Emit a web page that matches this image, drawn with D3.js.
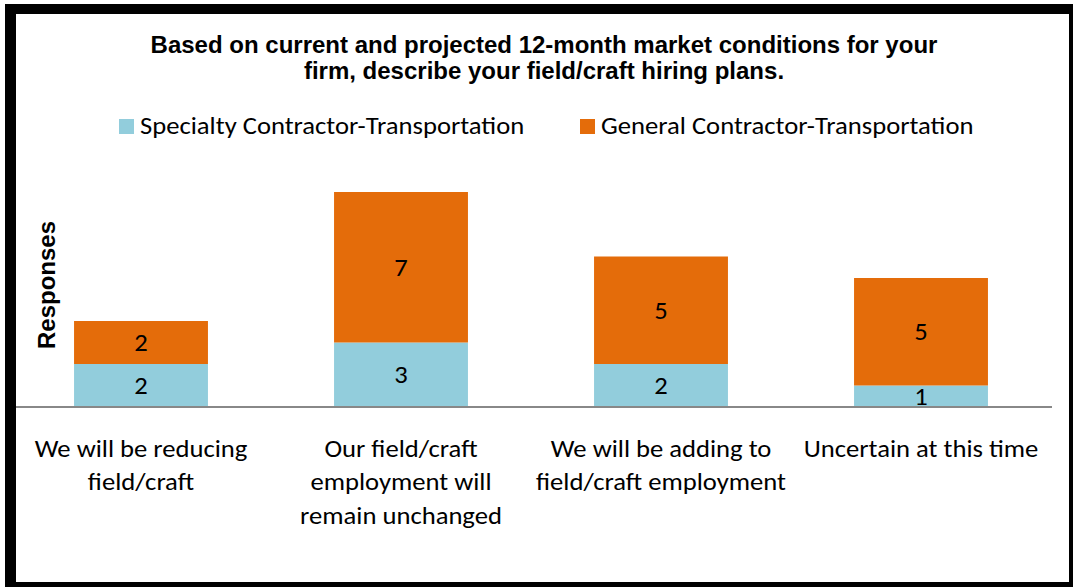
<!DOCTYPE html>
<html><head><meta charset="utf-8">
<script src="https://cdn.jsdelivr.net/npm/d3@7"></script>
<style>html,body{margin:0;padding:0;background:#fff;} svg{display:block;}</style>
</head><body>
<svg id="c" width="1075" height="587"></svg>
<script>
const categories = [
  ["We will be reducing", "field/craft"],
  ["Our field/craft", "employment will", "remain unchanged"],
  ["We will be adding to", "field/craft employment"],
  ["Uncertain at this time"]
];
const seriesNames = ["Specialty Contractor-Transportation", "General Contractor-Transportation"];
const specialty = [2, 3, 2, 1];
const general = [2, 7, 5, 5];
const colors = ["#92CDDC", "#E46C0A"];
const titleLines = ["Based on current and projected 12-month market conditions for your", "firm, describe your field/craft hiring plans."];
const yTitle = "Responses";

const svg = d3.select("#c");
const W = 1075, H = 587;
const bodyFont = "Carlito, Calibri, 'Open Sans', sans-serif";
const boldFont = "Arial, 'Liberation Sans', sans-serif";
const SX = 1.11; // horizontal stretch of body text

svg.append("rect").attr("width", W).attr("height", H).attr("fill", "#fff");

const keys = categories.map((c, i) => i);
const x = d3.scaleBand().domain(keys).range([11, 1051]).paddingInner(0.485).paddingOuter(0.2425);
const y = d3.scaleLinear().domain([0, 10]).range([407, 192]);

const rows = keys.map(i => ({i, s0: specialty[i], s1: general[i]}));
const stack = d3.stack().keys(["s0", "s1"])(rows);

const g = svg.append("g");
stack.forEach((layer, li) => {
  g.selectAll(null).data(layer).enter().append("rect")
    .attr("x", d => x(d.data.i))
    .attr("width", x.bandwidth())
    .attr("y", d => y(d[1]))
    .attr("height", d => y(d[0]) - y(d[1]))
    .attr("fill", colors[li]);
  g.selectAll(null).data(layer).enter().append("text")
    .attr("transform", d => `translate(${x(d.data.i) + x.bandwidth() / 2},${(y(d[0]) + y(d[1])) / 2}) scale(${SX},1)`)
    .attr("dy", "0.35em")
    .attr("text-anchor", "middle")
    .attr("font-family", bodyFont).attr("font-size", 24).attr("fill", "#000")
    .text(d => d[1] - d[0]);
});

// baseline axis
const xAxis = d3.axisBottom(x).tickSize(0).tickFormat("");
const ax = svg.append("g").attr("transform", `translate(0,${y(0)})`).call(xAxis);
ax.select(".domain").remove();
ax.append("line").attr("x1", 16).attr("x2", 1052).attr("y1", 0).attr("y2", 0)
  .attr("stroke", "#888").attr("stroke-width", 2);

// category labels
keys.forEach(i => {
  const t = svg.append("text")
    .attr("transform", `translate(${x(i) + x.bandwidth() / 2},457) scale(${SX},1)`)
    .attr("text-anchor", "middle")
    .attr("font-family", bodyFont).attr("font-size", 24).attr("fill", "#000");
  categories[i].forEach((line, k) => {
    t.append("tspan").attr("x", 0).attr("y", k * 33.5).text(line);
  });
});

// title
const tt = svg.append("text").attr("text-anchor", "middle")
  .attr("font-family", boldFont).attr("font-weight", "bold").attr("font-size", 24).attr("fill", "#000");
titleLines.forEach((l, k) => tt.append("tspan").attr("x", 544).attr("y", 53 + k * 26).text(l));

// y title
svg.append("text").attr("transform", "translate(55,285) rotate(-90)")
  .attr("text-anchor", "middle")
  .attr("font-family", boldFont).attr("font-weight", "bold").attr("font-size", 24).attr("fill", "#000")
  .text(yTitle);

// legend
const legX = [119, 580];
seriesNames.forEach((n, i) => {
  svg.append("rect").attr("x", legX[i]).attr("y", 119).attr("width", 15).attr("height", 15).attr("fill", colors[i]);
  svg.append("text").attr("transform", `translate(${legX[i] + 21},134) scale(${SX},1)`)
    .attr("font-family", bodyFont).attr("font-size", 24).attr("fill", "#000").text(n);
});

// frame
svg.append("rect").attr("x", 5).attr("y", 4).attr("width", 11).attr("height", 583).attr("fill", "#000");
svg.append("rect").attr("x", 5).attr("y", 4).attr("width", 1068).attr("height", 10).attr("fill", "#000");
svg.append("rect").attr("x", 1069).attr("y", 4).attr("width", 4).attr("height", 583).attr("fill", "#000");
svg.append("rect").attr("x", 5).attr("y", 582).attr("width", 1068).attr("height", 5).attr("fill", "#000");
</script>
</body></html>
